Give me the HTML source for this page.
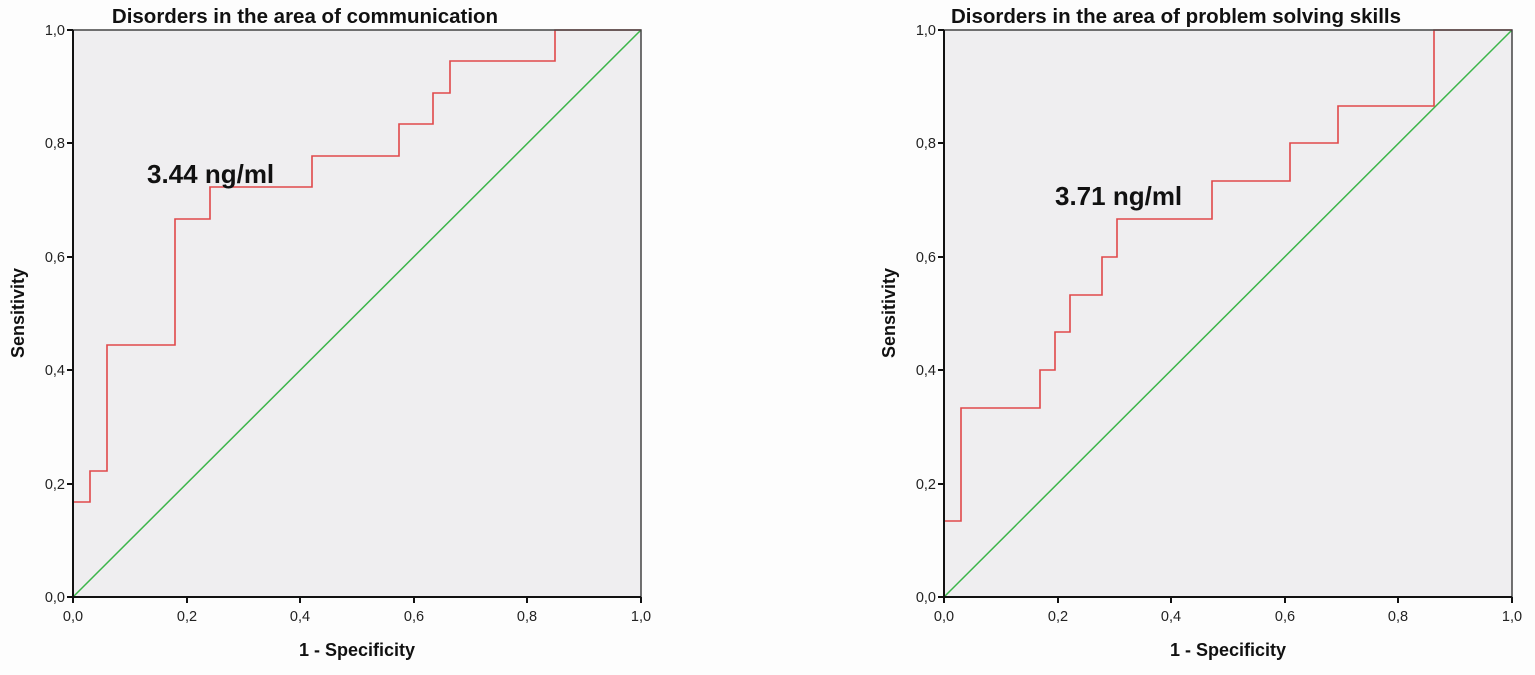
<!DOCTYPE html>
<html><head><style>body{margin:0;background:#fdfdfd}svg{display:block}</style></head><body>
<svg width="1535" height="675" viewBox="0 0 1535 675" xmlns="http://www.w3.org/2000/svg" font-family="Liberation Sans, sans-serif">
<rect width="1535" height="675" fill="#fdfdfd"/>
<g id="L">
<rect x="73" y="30" width="568" height="567" fill="#efeef0"/>
<line x1="73" y1="597" x2="641" y2="30" stroke="#3cb54a" stroke-width="1.5"/>
<path d="M73,597 V502 H90 V471 H107 V345 H175 V219 H210 V187 H312 V156 H399 V124 H433 V93 H450 V61 H555 V30 H641" fill="none" stroke="#e0484a" stroke-width="1.6"/>
<path d="M73,30 H641 V597" fill="none" stroke="#444" stroke-width="1.5"/>
<path d="M73,30 V597 H641" fill="none" stroke="#111" stroke-width="2"/>
<g stroke="#111" stroke-width="2">
<line x1="67" y1="30" x2="73" y2="30"/><line x1="67" y1="143" x2="73" y2="143"/><line x1="67" y1="257" x2="73" y2="257"/><line x1="67" y1="370" x2="73" y2="370"/><line x1="67" y1="484" x2="73" y2="484"/><line x1="67" y1="597" x2="73" y2="597"/>
<line x1="73" y1="597" x2="73" y2="603"/><line x1="187" y1="597" x2="187" y2="603"/><line x1="300" y1="597" x2="300" y2="603"/><line x1="414" y1="597" x2="414" y2="603"/><line x1="527" y1="597" x2="527" y2="603"/><line x1="641" y1="597" x2="641" y2="603"/>
</g>
<g font-size="14.5" fill="#222" text-anchor="end">
<text x="65" y="35">1,0</text><text x="65" y="148">0,8</text><text x="65" y="262">0,6</text><text x="65" y="375">0,4</text><text x="65" y="489">0,2</text><text x="65" y="602">0,0</text>
</g>
<g font-size="14.5" fill="#222" text-anchor="middle">
<text x="73" y="621">0,0</text><text x="187" y="621">0,2</text><text x="300" y="621">0,4</text><text x="414" y="621">0,6</text><text x="527" y="621">0,8</text><text x="641" y="621">1,0</text>
</g>
<text x="357" y="656" font-size="18" font-weight="bold" text-anchor="middle" fill="#111">1 - Specificity</text>
<text transform="translate(24,313) rotate(-90)" font-size="18" font-weight="bold" text-anchor="middle" fill="#111">Sensitivity</text>
<text x="305" y="23" font-size="20.5" font-weight="bold" text-anchor="middle" fill="#111">Disorders in the area of communication</text>
<text x="147" y="183" font-size="26" font-weight="bold" fill="#111">3.44 ng/ml</text>
</g>
<g id="R">
<rect x="944" y="30" width="568" height="567" fill="#efeef0"/>
<line x1="944" y1="597" x2="1512" y2="30" stroke="#3cb54a" stroke-width="1.5"/>
<path d="M944,597 V521 H961 V408 H1040 V370 H1055 V332 H1070 V295 H1102 V257 H1117 V219 H1212 V181 H1290 V143 H1338 V106 H1434 V30 H1512" fill="none" stroke="#e0484a" stroke-width="1.6"/>
<path d="M944,30 H1512 V597" fill="none" stroke="#444" stroke-width="1.5"/>
<path d="M944,30 V597 H1512" fill="none" stroke="#111" stroke-width="2"/>
<g stroke="#111" stroke-width="2">
<line x1="938" y1="30" x2="944" y2="30"/><line x1="938" y1="143" x2="944" y2="143"/><line x1="938" y1="257" x2="944" y2="257"/><line x1="938" y1="370" x2="944" y2="370"/><line x1="938" y1="484" x2="944" y2="484"/><line x1="938" y1="597" x2="944" y2="597"/>
<line x1="944" y1="597" x2="944" y2="603"/><line x1="1058" y1="597" x2="1058" y2="603"/><line x1="1171" y1="597" x2="1171" y2="603"/><line x1="1285" y1="597" x2="1285" y2="603"/><line x1="1398" y1="597" x2="1398" y2="603"/><line x1="1512" y1="597" x2="1512" y2="603"/>
</g>
<g font-size="14.5" fill="#222" text-anchor="end">
<text x="936" y="35">1,0</text><text x="936" y="148">0,8</text><text x="936" y="262">0,6</text><text x="936" y="375">0,4</text><text x="936" y="489">0,2</text><text x="936" y="602">0,0</text>
</g>
<g font-size="14.5" fill="#222" text-anchor="middle">
<text x="944" y="621">0,0</text><text x="1058" y="621">0,2</text><text x="1171" y="621">0,4</text><text x="1285" y="621">0,6</text><text x="1398" y="621">0,8</text><text x="1512" y="621">1,0</text>
</g>
<text x="1228" y="656" font-size="18" font-weight="bold" text-anchor="middle" fill="#111">1 - Specificity</text>
<text transform="translate(895,313) rotate(-90)" font-size="18" font-weight="bold" text-anchor="middle" fill="#111">Sensitivity</text>
<text x="1176" y="23" font-size="20.5" font-weight="bold" text-anchor="middle" fill="#111">Disorders in the area of problem solving skills</text>
<text x="1055" y="205" font-size="26" font-weight="bold" fill="#111">3.71 ng/ml</text>
</g>
</svg>
</body></html>
